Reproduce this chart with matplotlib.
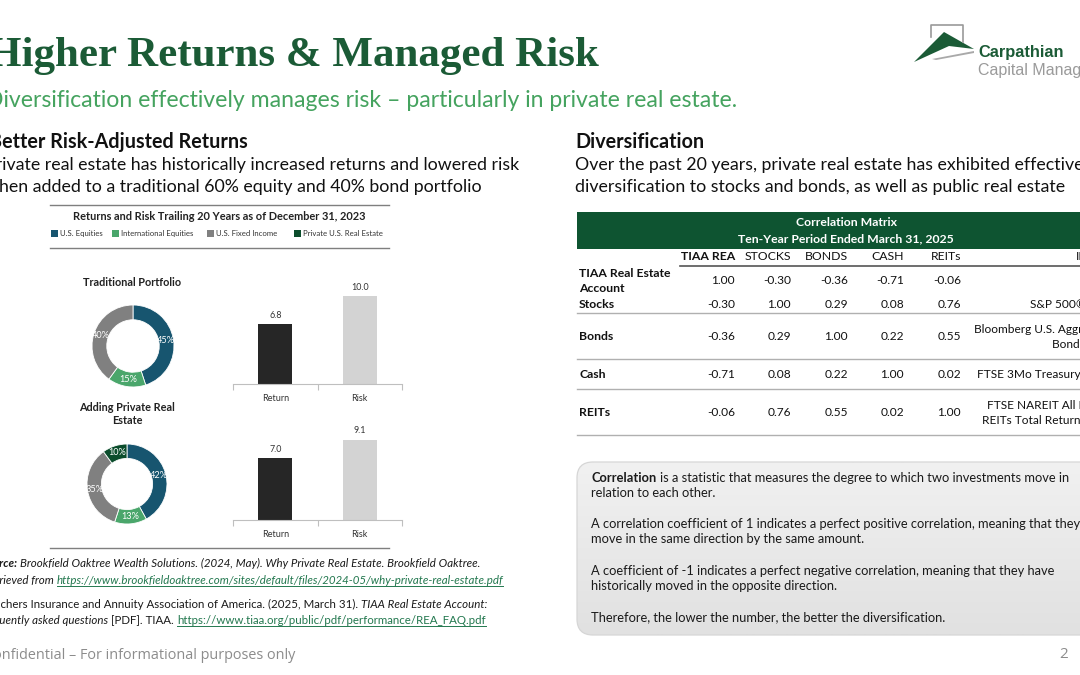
import matplotlib
matplotlib.use("Agg")
import matplotlib.pyplot as plt
import numpy as np
from matplotlib.patches import Rectangle, FancyBboxPatch, Polygon

# ---- data ----
alloc_labels = ["U.S. Equities", "International Equities", "U.S. Fixed Income", "Private U.S. Real Estate"]
alloc_colors = ["#17556f", "#4aa66b", "#808080", "#0b4d2c"]
traditional_alloc = [45, 15, 40]
private_re_alloc = [42, 13, 35, 10]

bar_categories = ["Return", "Risk"]
traditional_stats = [6.8, 10.0]
private_re_stats = [7.0, 9.1]

corr_columns = ["TIAA REA", "STOCKS", "BONDS", "CASH", "REITs"]
corr_rows = ["TIAA Real Estate\nAccount", "Stocks", "Bonds", "Cash", "REITs"]
corr_values = [
    [1.00, -0.30, -0.36, -0.71, -0.06],
    [-0.30, 1.00, 0.29, 0.08, 0.76],
    [-0.36, 0.29, 1.00, 0.22, 0.55],
    [-0.71, 0.08, 0.22, 1.00, 0.02],
    [-0.06, 0.76, 0.55, 0.02, 1.00],
]
corr_index = ["", "S&P 500® Index", "Bloomberg U.S. Aggregate\nBond Index",
              "FTSE 3Mo Treasury Bill Index", "FTSE NAREIT All Equity\nREITs Total Return Index"]

GREEN = "#1b5b36"
LIGHT_GREEN = "#45a35f"
TABLE_GREEN = "#0e5431"
LINK = "#23784f"
SANS = "Lato"

W, H = 1080, 675
fig = plt.figure(figsize=(W / 100, H / 100), dpi=100)
bg = fig.add_axes([0, 0, 1, 1])
bg.set_xlim(0, W)
bg.set_ylim(H, 0)
bg.axis("off")
renderer = fig.canvas.get_renderer()


def px_axes(x0, y0, x1, y1):
    return fig.add_axes([x0 / W, 1 - y1 / H, (x1 - x0) / W, (y1 - y0) / H])


def text_width(s, **kw):
    t = bg.text(0, 0, s, **kw)
    w = t.get_window_extent(renderer=renderer).width
    t.remove()
    return w


def runs(x, y, parts, size, color="#1a1a1a"):
    """Draw text pieces of mixed style on one line."""
    space = text_width("x x", fontsize=size, family=SANS) - text_width("xx", fontsize=size, family=SANS)
    for txt, style in parts:
        st = dict(fontsize=size, family=SANS, color=color, va="baseline")
        st.update(style)
        t = bg.text(x, y, txt, **st)
        w = t.get_window_extent(renderer=renderer).width
        if st["color"] == LINK:
            bg.plot([x, x + w], [y + 2, y + 2], color=LINK, lw=0.7)
        x += w + space


# ---- header ----
bg.text(-12, 66, "Higher Returns & Managed Risk", fontsize=31, family="Liberation Serif",
        fontweight="bold", color=GREEN, va="baseline")
bg.text(-14, 107, "Diversification effectively manages risk \u2013 particularly in private real estate.",
        fontsize=16.6, family=SANS, color=LIGHT_GREEN, va="baseline")

# logo
bg.plot([931, 931, 963, 963], [37, 25, 25, 42], color="#9a9a9a", lw=1.2)
bg.add_patch(Polygon([[914, 62], [944, 32], [974, 49], [949, 46]], closed=True, color=GREEN, lw=0))
bg.add_patch(Polygon([[932, 59], [974, 51], [974, 53], [936, 60]], closed=True, color="#a9a9a9", lw=0))
bg.text(978, 57, "Carpathian", fontsize=11.8, family="Liberation Sans", fontweight="bold",
        color=GREEN, va="baseline")
bg.text(978, 75, "Capital Management", fontsize=11.5, family="Liberation Sans",
        color="#9a9a9a", va="baseline")

# section headings
bg.text(-11, 148, "Better Risk-Adjusted Returns", fontsize=14.2, family=SANS,
        fontweight="bold", color="#111111", va="baseline")
bg.text(-15, 170, "Private real estate has historically increased returns and lowered risk",
        fontsize=12.8, family=SANS, color="#111111", va="baseline")
bg.text(-15, 192, "when added to a traditional 60% equity and 40% bond portfolio",
        fontsize=12.8, family=SANS, color="#111111", va="baseline")

bg.text(575, 148, "Diversification", fontsize=14.2, family=SANS,
        fontweight="bold", color="#111111", va="baseline")
bg.text(575, 170, "Over the past 20 years, private real estate has exhibited effective",
        fontsize=12.8, family=SANS, color="#111111", va="baseline")
bg.text(575, 192, "diversification to stocks and bonds, as well as public real estate",
        fontsize=12.8, family=SANS, color="#111111", va="baseline")

# ---- left chart block ----
for yy in (205, 248, 548):
    bg.plot([50, 389], [yy, yy], color="#7f7f7f", lw=1.0)
bg.text(219, 216, "Returns and Risk Trailing 20 Years as of December 31, 2023", fontsize=7.9,
        family=SANS, fontweight="bold", color="#222222", ha="center", va="center")

leg_x = [51, 112, 207, 294]
for lx, lab, col in zip(leg_x, alloc_labels, alloc_colors):
    bg.add_patch(Rectangle((lx, 230), 7, 7, color=col, lw=0))
    bg.text(lx + 9, 233.5, lab, fontsize=5.6, family=SANS, color="#333333", va="center")

bg.text(132, 282, "Traditional Portfolio", fontsize=7.8, family=SANS, fontweight="bold",
        color="#222222", ha="center", va="center")
bg.text(127, 414, "Adding Private Real\nEstate", fontsize=7.8, family=SANS, fontweight="bold",
        color="#222222", ha="center", va="center", linespacing=1.15)


def donut(cx, cy, r, values, colors):
    ax = px_axes(cx - r, cy - r, cx + r, cy + r)
    ax.pie(values, colors=colors, startangle=90, counterclock=False, radius=1,
           autopct="%.0f%%", pctdistance=0.82,
           wedgeprops=dict(width=0.36, edgecolor="white", linewidth=0.6),
           textprops=dict(color="white", fontsize=6.6, family=SANS))
    ax.set_xlim(-1, 1)
    ax.set_ylim(-1, 1)
    ax.set_aspect("equal")


def stat_bars(x0, base_y, values):
    ax = px_axes(x0, base_y - 106, x0 + 169, base_y)
    b = ax.bar(range(len(values)), values, width=0.4, color=["#262626", "#d3d3d3"])
    ax.bar_label(b, fmt="%.1f", padding=3, fontsize=6.4, color="#333333", family=SANS)
    ax.set_xlim(-0.5, 1.5)
    ax.set_ylim(0, 12)
    for s in ("top", "right", "left"):
        ax.spines[s].set_visible(False)
    ax.spines["bottom"].set_color("#bfbfbf")
    ax.set_yticks([])
    ax.set_xticks(range(len(values)))
    ax.set_xticklabels(bar_categories, fontsize=6.5, family=SANS, color="#333333")
    ax.tick_params(axis="x", which="major", length=0, pad=7)
    ax.set_xticks([-0.5, 0.5, 1.5], minor=True)
    ax.tick_params(axis="x", which="minor", length=4, color="#bfbfbf", width=0.8)
    ax.patch.set_alpha(0)


donut(133, 346, 41, traditional_alloc, alloc_colors[:3])
donut(127, 484, 40, private_re_alloc, alloc_colors)
stat_bars(233, 384, traditional_stats)
stat_bars(233, 520, private_re_stats)

# sources
runs(-19, 567, [("Source:", dict(style="italic", fontweight="bold")),
                ("Brookfield Oaktree Wealth Solutions. (2024, May). Why Private Real Estate. Brookfield Oaktree.",
                 dict(style="italic"))], 8.3)
runs(-17, 584, [("Retrieved from", dict(style="italic")),
                ("https://www.brookfieldoaktree.com/sites/default/files/2024-05/why-private-real-estate.pdf",
                 dict(style="italic", color=LINK))], 8.3)
runs(-18, 608, [("Teachers Insurance and Annuity Association of America. (2025, March 31).", {}),
                ("TIAA Real Estate Account:", dict(style="italic"))], 8.3)
runs(-22, 624, [("Frequently asked questions", dict(style="italic")),
                ("[PDF]. TIAA.", {}),
                ("https://www.tiaa.org/public/pdf/performance/REA_FAQ.pdf", dict(color=LINK))], 8.3)

bg.text(-16, 659, "Confidential \u2013 For informational purposes only", fontsize=10.4,
        family="Open Sans", color="#8c8c8c", va="baseline")
bg.text(1064, 654, "2", fontsize=11, family="Open Sans", color="#8c8c8c", ha="center", va="center")

# ---- correlation table ----
bg.add_patch(Rectangle((577, 212), 520, 37, color=TABLE_GREEN, lw=0))
bg.text(846, 222, "Correlation Matrix", fontsize=8.8, family=SANS, fontweight="bold",
        color="white", ha="center", va="center")
bg.text(846, 239, "Ten-Year Period Ended March 31, 2025", fontsize=8.8, family=SANS, fontweight="bold",
        color="white", ha="center", va="center")

col_right = [735, 791, 848, 904, 961]
for i, (cx, name) in enumerate(zip(col_right, corr_columns)):
    bg.text(cx, 257, name, fontsize=8.8, family=SANS, fontweight="bold" if i == 0 else "normal",
            color="#111111", ha="right", va="center")
bg.text(1076, 257, "INDEX", fontsize=8.8, family=SANS, color="#111111", va="center")
bg.plot([680, W], [266, 266], color="#555555", lw=1.2)

row_y = [281, 305, 337, 374, 413]
row_lines = [None, 313, 359, 389, 435]
index_x = [None, 1030, 974, 977, 982]
for r, (name, vals) in enumerate(zip(corr_rows, corr_values)):
    y = row_y[r]
    bg.text(579, y, name, fontsize=8.8, family=SANS, fontweight="bold", color="#111111",
            va="center", linespacing=1.4)
    for cx, v in zip(col_right, vals):
        bg.text(cx, y, f"{v:.2f}", fontsize=8.6, family=SANS, color="#111111", ha="right", va="center")
    if corr_index[r]:
        bg.text(index_x[r], y, corr_index[r], fontsize=8.6, family=SANS, color="#111111",
                va="center", ha="left", multialignment="right", linespacing=1.35)
    if row_lines[r]:
        bg.plot([577, W], [row_lines[r], row_lines[r]], color="#b0b0b0", lw=1.0)

# ---- info box ----
box = FancyBboxPatch((577, 462), 530, 173, boxstyle="round,pad=0,rounding_size=16",
                     facecolor="none", edgecolor="#d6d6d6", lw=0.9)
bg.add_patch(box)
grad = np.linspace(0, 1, 100).reshape(-1, 1)
img = bg.imshow(grad, cmap=matplotlib.colors.LinearSegmentedColormap.from_list("g", ["#f1f1f1", "#e1e1e1"]),
                extent=(577, 1107, 635, 462), aspect="auto", zorder=0)
img.set_clip_path(box)
bg.set_xlim(0, W)
bg.set_ylim(H, 0)

runs(591, 482, [("Correlation", dict(fontweight="bold")),
                ("is a statistic that measures the degree to which two investments move in", {})], 9.3)
box_lines = [
    (497, "relation to each other."),
    (528, "A correlation coefficient of 1 indicates a perfect positive correlation, meaning that they"),
    (543, "move in the same direction by the same amount."),
    (575, "A coefficient of -1 indicates a perfect negative correlation, meaning that they have"),
    (590, "historically moved in the opposite direction."),
    (621, "Therefore, the lower the number, the better the diversification."),
]
for yy, s in box_lines:
    bg.text(591, yy, s, fontsize=9.3, family=SANS, color="#1a1a1a", va="baseline")

fig.savefig("out.png", dpi=100)
